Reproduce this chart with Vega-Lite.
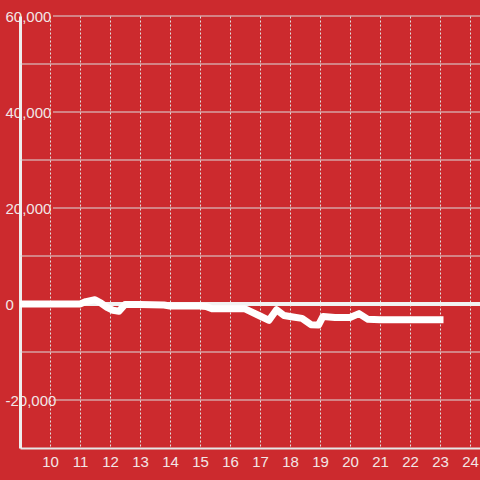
{
  "$schema": "https://vega.github.io/schema/vega-lite/v6.json",
  "width": 460,
  "height": 432,
  "autosize": {"type": "none"},
  "padding": {"left": 20, "top": 16, "right": 0, "bottom": 32},
  "background": "#CC2A2E",
  "config": {
    "view": {"stroke": null},
    "font": "Liberation Sans",
    "axisX": {
      "title": null,
      "grid": true, "gridColor": "#e0e0e0", "gridDash": [2, 2], "gridWidth": 1,
      "ticks": false, "tickSize": 0, "labelPadding": 6,
      "domainColor": "#e6e6e6", "domainWidth": 2,
      "labelColor": "#f2e6e6", "labelFontSize": 15, "labelFont": "Liberation Sans",
      "labelFlush": false, "labelOverlap": false
    },
    "axisY": {
      "title": null,
      "grid": false,
      "ticks": false, "tickSize": 0,
      "labelAlign": "left", "labelPadding": 15, "labelBaseline": "middle",
      "domainColor": "#eeeeee", "domainWidth": 3,
      "labelColor": "#f2e6e6", "labelFontSize": 15, "labelFont": "Liberation Sans",
      "labelFlush": false, "labelOverlap": false
    }
  },
  "datasets": {
    "series": [
      {"hour": 9.0, "value": 0},
      {"hour": 11.0, "value": 0},
      {"hour": 11.2, "value": 500},
      {"hour": 11.5, "value": 900},
      {"hour": 11.7, "value": 200},
      {"hour": 11.9, "value": -700},
      {"hour": 12.1, "value": -1300},
      {"hour": 12.3, "value": -1500},
      {"hour": 12.5, "value": -100},
      {"hour": 13.0, "value": -100},
      {"hour": 13.8, "value": -200},
      {"hour": 14.0, "value": -400},
      {"hour": 15.0, "value": -400},
      {"hour": 15.2, "value": -500},
      {"hour": 15.4, "value": -1000},
      {"hour": 16.5, "value": -1000},
      {"hour": 17.0, "value": -2500},
      {"hour": 17.3, "value": -3400},
      {"hour": 17.55, "value": -1200},
      {"hour": 17.8, "value": -2400},
      {"hour": 18.1, "value": -2700},
      {"hour": 18.4, "value": -3000},
      {"hour": 18.7, "value": -4300},
      {"hour": 18.95, "value": -4400},
      {"hour": 19.1, "value": -2600},
      {"hour": 19.5, "value": -2800},
      {"hour": 20.0, "value": -2800},
      {"hour": 20.3, "value": -2000},
      {"hour": 20.6, "value": -3200},
      {"hour": 21.0, "value": -3300},
      {"hour": 23.0, "value": -3300}
    ],
    "minorGrid": [{"g": -10000}, {"g": 10000}, {"g": 30000}, {"g": 50000}],
    "majorGrid": [{"g": -20000}, {"g": 20000}, {"g": 40000}, {"g": 60000}]
  },
  "layer": [
    {
      "data": {"name": "minorGrid"},
      "mark": {"type": "rule", "color": "#dcdcdc", "strokeWidth": 1},
      "encoding": {
        "y": {"field": "g", "type": "quantitative",
          "scale": {"domain": [-30000, 60000], "nice": false},
          "axis": {"values": [-20000, 0, 20000, 40000, 60000], "labelExpr": "replace(format(datum.value, ','), '\u2212', '-')"}}
      }
    },
    {
      "data": {"name": "majorGrid"},
      "mark": {"type": "rule", "color": "#dcdcdc", "strokeWidth": 1},
      "encoding": {
        "y": {"field": "g", "type": "quantitative",
          "axis": {"values": [-20000, 0, 20000, 40000, 60000], "labelExpr": "replace(format(datum.value, ','), '\u2212', '-')"}},
        "x": {"datum": 10.1, "type": "quantitative",
          "scale": {"domain": [9, 24.333], "nice": false, "zero": false},
          "axis": {"values": [10,11,12,13,14,15,16,17,18,19,20,21,22,23,24]}},
        "x2": {"datum": 24.333}
      }
    },
    {
      "data": {"name": "series"},
      "mark": {"type": "rule", "color": "#f2f2f2", "strokeWidth": 3},
      "encoding": {"y": {"datum": 0, "type": "quantitative",
          "axis": {"values": [-20000, 0, 20000, 40000, 60000], "labelExpr": "replace(format(datum.value, ','), '\u2212', '-')"}}}
    },
    {
      "data": {"name": "series"},
      "mark": {"type": "line", "color": "#ffffff", "strokeWidth": 7, "strokeJoin": "round", "strokeCap": "square", "clip": true},
      "encoding": {
        "x": {"field": "hour", "type": "quantitative",
          "axis": {"values": [10,11,12,13,14,15,16,17,18,19,20,21,22,23,24]}},
        "y": {"field": "value", "type": "quantitative",
          "axis": {"values": [-20000, 0, 20000, 40000, 60000], "labelExpr": "replace(format(datum.value, ','), '\u2212', '-')"}}
      }
    }
  ]
}
